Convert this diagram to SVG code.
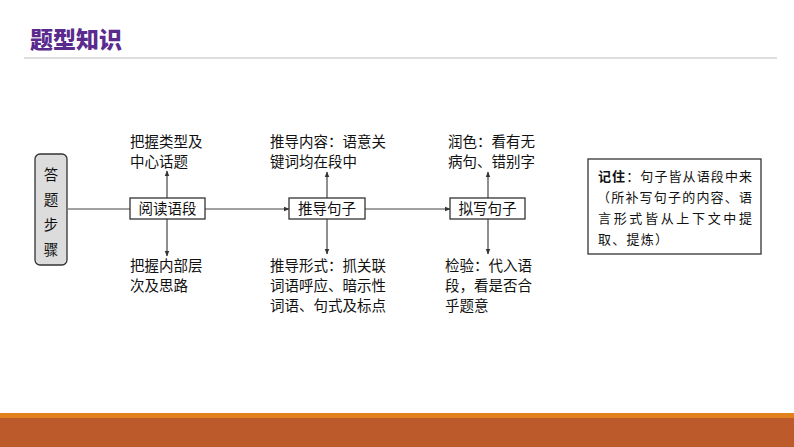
<svg xmlns="http://www.w3.org/2000/svg" width="794" height="447" viewBox="0 0 794 447">
<style>
.t{font-family:"Noto Sans CJK SC",sans-serif;font-size:14.5px;fill:#111}
.bx{fill:#fff;stroke:#333;stroke-width:1.3}
.ln{stroke:#444;stroke-width:1.2;fill:none}
.note{font-family:"Noto Sans CJK SC",sans-serif;font-size:13px;fill:#111}
</style>
<defs>
<marker id="ah" viewBox="0 0 10 10" refX="9" refY="5" markerWidth="6" markerHeight="6" orient="auto" markerUnits="userSpaceOnUse">
<path d="M0,1 L10,5 L0,9 Z" fill="#333"/>
</marker>
</defs>
<rect width="794" height="447" fill="#fff"/>
<text x="30" y="48" font-family="Noto Sans CJK SC,sans-serif" font-size="23" font-weight="900" fill="#5A2A8E">题型知识</text>
<line x1="24" y1="58" x2="777" y2="58" stroke="#BDBDBD" stroke-width="1.2"/>
<rect x="0" y="413" width="794" height="5" fill="#E2821F"/>
<rect x="0" y="418" width="794" height="29" fill="#BC5A2C"/>
<g id="connectors">
<line class="ln" x1="68" y1="209" x2="130" y2="209"/>
<line class="ln" x1="205" y1="209" x2="289" y2="209" marker-end="url(#ah)"/>
<line class="ln" x1="365" y1="209" x2="450" y2="209" marker-end="url(#ah)"/>
<line class="ln" x1="167" y1="198" x2="167" y2="171" marker-end="url(#ah)"/>
<line class="ln" x1="167" y1="219" x2="167" y2="256" marker-end="url(#ah)"/>
<line class="ln" x1="327" y1="198" x2="327" y2="172" marker-end="url(#ah)"/>
<line class="ln" x1="327" y1="219" x2="327" y2="254" marker-end="url(#ah)"/>
<line class="ln" x1="488" y1="198" x2="488" y2="172" marker-end="url(#ah)"/>
<line class="ln" x1="488" y1="219" x2="488" y2="254" marker-end="url(#ah)"/>
</g>
<g id="steps">
<rect x="35" y="154" width="32" height="111" rx="5" fill="#DCDCDC" stroke="#333" stroke-width="1.3"/>
<text class="t" x="51" y="180" text-anchor="middle" font-size="18">答</text>
<text class="t" x="51" y="205" text-anchor="middle" font-size="18">题</text>
<text class="t" x="51" y="230" text-anchor="middle" font-size="18">步</text>
<text class="t" x="51" y="255" text-anchor="middle" font-size="18">骤</text>
</g>
<g id="read">
<rect class="bx" x="130" y="198" width="75" height="21"/>
<text class="t" x="167.5" y="214" text-anchor="middle">阅读语段</text>
</g>
<g id="read-up">
<text class="t" x="130" y="147">把握类型及</text>
<text class="t" x="130" y="167">中心话题</text>
</g>
<g id="read-down">
<text class="t" x="130" y="271">把握内部层</text>
<text class="t" x="130" y="291">次及思路</text>
</g>
<g id="infer">
<rect class="bx" x="289" y="198" width="76" height="21"/>
<text class="t" x="327" y="214" text-anchor="middle">推导句子</text>
</g>
<g id="infer-up">
<text class="t" x="270" y="147">推导内容：语意关</text>
<text class="t" x="270" y="167">键词均在段中</text>
</g>
<g id="infer-down">
<text class="t" x="270" y="271">推导形式：抓关联</text>
<text class="t" x="270" y="291">词语呼应、暗示性</text>
<text class="t" x="270" y="311">词语、句式及标点</text>
</g>
<g id="write">
<rect class="bx" x="450" y="198" width="75" height="21"/>
<text class="t" x="487.5" y="214" text-anchor="middle">拟写句子</text>
</g>
<g id="write-up">
<text class="t" x="448" y="147">润色：看有无</text>
<text class="t" x="448" y="167">病句、错别字</text>
</g>
<g id="write-down">
<text class="t" x="445" y="271">检验：代入语</text>
<text class="t" x="445" y="291">段，看是否合</text>
<text class="t" x="445" y="311">乎题意</text>
</g>
<g id="note">
<rect class="bx" x="588" y="159" width="173" height="95"/>
<text class="note" x="598" y="181" textLength="154" lengthAdjust="spacing"><tspan font-weight="bold">记住</tspan>：句子皆从语段中来</text>
<text class="note" x="597" y="202" textLength="155" lengthAdjust="spacing">（所补写句子的内容、语</text>
<text class="note" x="598" y="223" textLength="154" lengthAdjust="spacing">言形式皆从上下文中提</text>
<text class="note" x="598" y="244" textLength="70" lengthAdjust="spacing">取、提炼）</text>
</g>
</svg>
